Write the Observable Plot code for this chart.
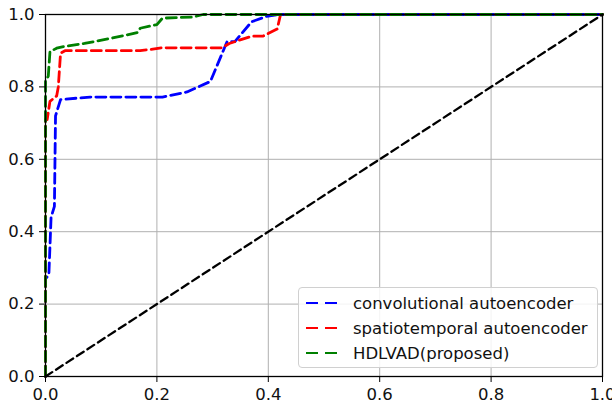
<!DOCTYPE html>
<html>
<head>
<meta charset="utf-8">
<script src="https://cdn.jsdelivr.net/npm/d3@7"></script>
<script src="https://cdn.jsdelivr.net/npm/@observablehq/plot@0.6"></script>
<style>
  body { margin: 0; background: #fff; }
  #wrap { position: relative; width: 612px; height: 407px; font-family: "DejaVu Sans", sans-serif; }
  #legend { position: absolute; left: 298px; top: 287px; width: 298px; height: 79px;
    border: 1px solid #d0d0d0; border-radius: 4px; background: rgba(255,255,255,0.85); box-sizing: content-box; }
  .row { position: absolute; left: 0; height: 20px; display: flex; align-items: center; }
  .row span { font-size: 16.5px; color: #111; margin-left: 14px; white-space: nowrap; }
</style>
</head>
<body>
<div id="wrap"></div>
<script>
// Series names and colors
const seriesNames = ["convolutional autoencoder", "spatiotemporal autoencoder", "HDLVAD(proposed)"];
const seriesColors = ["#0000ff", "#ff0000", "#008000"];

// Convolutional autoencoder ROC
const convFPR = [0, 0, 0.006, 0.010, 0.016, 0.018, 0.027, 0.08, 0.21, 0.254, 0.296, 0.326, 0.34, 0.37, 0.397, 0.418, 1.0];
const convTPR = [0, 0.27, 0.28, 0.44, 0.47, 0.72, 0.765, 0.772, 0.772, 0.786, 0.815, 0.925, 0.925, 0.98, 0.995, 1.0, 1.0];

// Spatiotemporal autoencoder ROC
const stFPR = [0, 0, 0.003, 0.008, 0.02, 0.023, 0.027, 0.035, 0.17, 0.21, 0.317, 0.33, 0.37, 0.39, 0.416, 0.422, 1.0];
const stTPR = [0, 0.71, 0.71, 0.76, 0.775, 0.80, 0.893, 0.90, 0.90, 0.908, 0.908, 0.92, 0.94, 0.94, 0.96, 1.0, 1.0];

// HDLVAD (proposed) ROC
const hdFPR = [0, 0, 0.005, 0.008, 0.02, 0.035, 0.07, 0.12, 0.165, 0.17, 0.2, 0.21, 0.265, 0.283, 1.0];
const hdTPR = [0, 0.815, 0.83, 0.897, 0.907, 0.912, 0.92, 0.935, 0.95, 0.962, 0.972, 0.99, 0.993, 1.0, 1.0];

// Chance diagonal
const diagX = [0, 1];
const diagY = [0, 1];

const ticks = [0, 0.2, 0.4, 0.6, 0.8, 1.0];

const toPts = (xs, ys) => xs.map((x, i) => ({x, y: ys[i]}));
const series = [toPts(convFPR, convTPR), toPts(stFPR, stTPR), toPts(hdFPR, hdTPR)];

const chart = Plot.plot({
  width: 612,
  height: 407,
  marginLeft: 45,
  marginRight: 10,
  marginTop: 14,
  marginBottom: 31,
  style: { fontFamily: "DejaVu Sans, sans-serif", fontSize: "16.5px", color: "#111", background: "#fff", overflow: "visible" },
  x: { domain: [0, 1], ticks: ticks, tickFormat: d3.format(".1f"), label: null },
  y: { domain: [0, 1], ticks: ticks, tickFormat: d3.format(".1f"), label: null },
  marks: [
    Plot.gridX(ticks, { stroke: "#b0b0b0", strokeOpacity: 1, strokeWidth: 1 }),
    Plot.gridY(ticks, { stroke: "#b0b0b0", strokeOpacity: 1, strokeWidth: 1 }),
    ...series.map((pts, i) => Plot.line(pts, { x: "x", y: "y", stroke: seriesColors[i], strokeWidth: 2.8, strokeDasharray: "10,5", strokeLinejoin: "round" })),
    Plot.line(toPts(diagX, diagY), { x: "x", y: "y", stroke: "#000", strokeWidth: 2.3, strokeDasharray: "8,4.5" }),
    Plot.frame({ stroke: "#000", strokeWidth: 1.3 }),
    Plot.axisX(ticks, { tickSize: 6, tickPadding: 6, tickFormat: d3.format(".1f"), label: null, stroke: "#000" }),
    Plot.axisY(ticks, { tickSize: 6, tickPadding: 5, tickFormat: d3.format(".1f"), label: null, stroke: "#000" })
  ]
});

const wrap = document.getElementById("wrap");
wrap.appendChild(chart);

// Legend
const legend = document.createElement("div");
legend.id = "legend";
seriesNames.forEach((name, i) => {
  const row = document.createElement("div");
  row.className = "row";
  row.style.top = (5 + i * 25) + "px";
  row.innerHTML = `<svg width="40" height="20"><line x1="7" x2="39" y1="10" y2="10" stroke="${seriesColors[i]}" stroke-width="2.2" stroke-dasharray="12,7"/></svg><span>${name}</span>`;
  legend.appendChild(row);
});
wrap.appendChild(legend);
</script>
</body>
</html>
